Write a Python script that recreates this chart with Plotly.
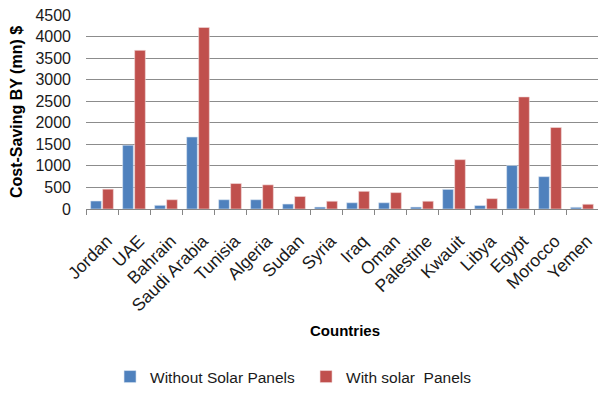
import plotly.graph_objects as go

countries = ["Jordan", "UAE", "Bahrain", "Saudi Arabia", "Tunisia", "Algeria", "Sudan",
             "Syria", "Iraq", "Oman", "Palestine", "Kwauit", "Libya", "Egypt", "Morocco", "Yemen"]
without_solar = [185, 1480, 85, 1670, 215, 215, 115, 45, 145, 145, 45, 455, 80, 1010, 750, 40]
with_solar = [460, 3680, 215, 4210, 590, 560, 290, 180, 410, 380, 180, 1145, 240, 2600, 1890, 110]
y_ticks = [0, 500, 1000, 1500, 2000, 2500, 3000, 3500, 4000, 4500]

FONT = "Liberation Sans"

fig = go.Figure()
fig.add_trace(go.Bar(x=countries, y=without_solar, name="Without Solar Panels",
                     marker=dict(color="#4F81BD", line=dict(color="#DCE6F2", width=0.6))))
fig.add_trace(go.Bar(x=countries, y=with_solar, name="With solar  Panels",
                     marker=dict(color="#C0504D", line=dict(color="#F2DCDB", width=0.6))))

fig.update_layout(
    width=598, height=394,
    margin=dict(l=86, r=0, t=15, b=184.5),
    plot_bgcolor="white", paper_bgcolor="white",
    barmode="group", bargap=0.25, bargroupgap=0.11,
    font=dict(family=FONT, size=13, color="#1a1a1a"),
    showlegend=True,
    legend=dict(orientation="h", x=0.184, xanchor="left", xref="container",
                y=11, yanchor="middle", yref="container",
                font=dict(size=15.5), itemwidth=30, entrywidth=151,
                traceorder="normal"),
    annotations=[
        dict(text="<b>Countries</b>", xref="paper", yref="paper", x=0.506, y=-0.625,
             showarrow=False, font=dict(size=15, family=FONT, color="#000"),
             xanchor="center", yanchor="middle"),
    ],
)

fig.update_xaxes(
    type="category", tickangle=-45, tickson="boundaries",
    ticks="outside", ticklen=5, tickcolor="#868686",
    showline=True, linecolor="#868686", linewidth=1,
    ticklabelstandoff=14, ticklabelshift=5,
    showgrid=False, tickfont=dict(size=17.5, color="#1a1a1a"),
)
fig.update_yaxes(
    range=[0, 4500], tickvals=y_ticks, ticks="",
    showgrid=True, gridcolor="#8C8C8C", gridwidth=1,
    zeroline=False, showline=False,
    ticklabelstandoff=14,
    tickfont=dict(size=16, color="#1a1a1a"),
    title=dict(text="<b>Cost-Saving BY (mn) $</b>", font=dict(size=16, color="#000"), standoff=8),
)

fig.write_html("out.html")
